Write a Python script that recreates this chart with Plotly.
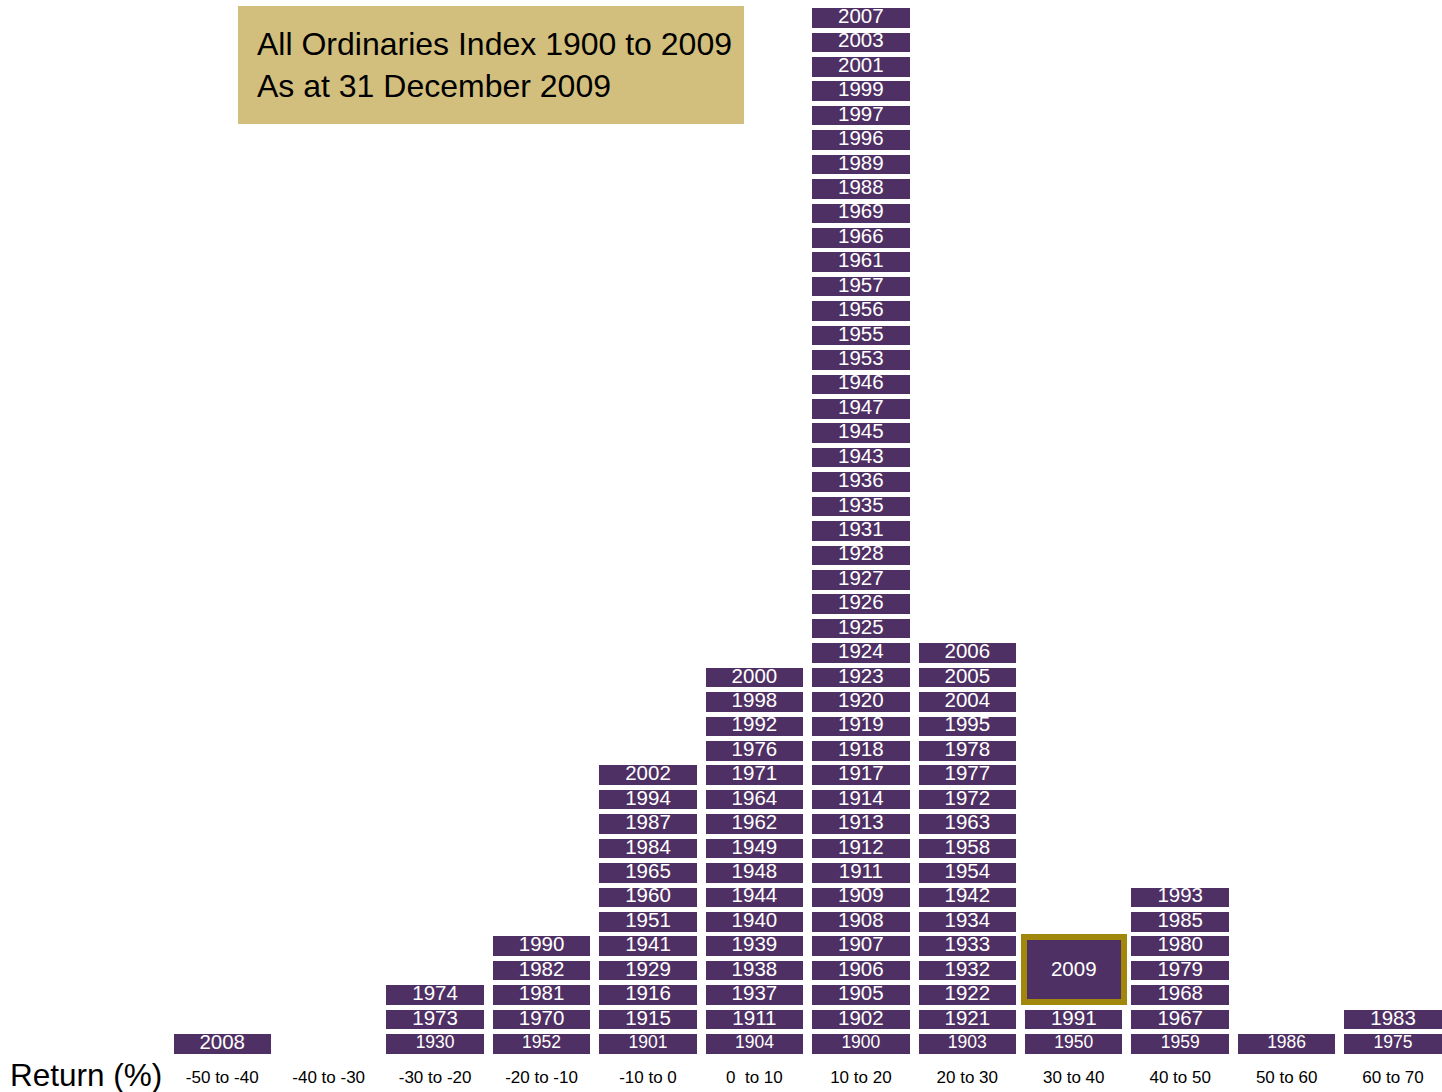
import plotly.graph_objects as go

# ---------------- data ----------------
categories = ["-50 to -40", "-40 to -30", "-30 to -20", "-20 to -10", "-10 to 0",
              "0  to 10", "10 to 20", "20 to 30", "30 to 40", "40 to 50",
              "50 to 60", "60 to 70"]

# years in each return bucket, listed bottom to top
years_m50_m40 = [2008]
years_m40_m30 = []
years_m30_m20 = [1930, 1973, 1974]
years_m20_m10 = [1952, 1970, 1981, 1982, 1990]
years_m10_0 = [1901, 1915, 1916, 1929, 1941, 1951, 1960, 1965, 1984, 1987, 1994, 2002]
years_0_10 = [1904, 1911, 1937, 1938, 1939, 1940, 1944, 1948, 1949, 1962, 1964, 1971,
              1976, 1992, 1998, 2000]
years_10_20 = [1900, 1902, 1905, 1906, 1907, 1908, 1909, 1911, 1912, 1913, 1914, 1917,
               1918, 1919, 1920, 1923, 1924, 1925, 1926, 1927, 1928, 1931, 1935, 1936,
               1943, 1945, 1947, 1946, 1953, 1955, 1956, 1957, 1961, 1966, 1969, 1988,
               1989, 1996, 1997, 1999, 2001, 2003, 2007]
years_20_30 = [1903, 1921, 1922, 1932, 1933, 1934, 1942, 1954, 1958, 1963, 1972, 1977,
               1978, 1995, 2004, 2005, 2006]
years_30_40 = [1950, 1991, 2009]
years_40_50 = [1959, 1967, 1968, 1979, 1980, 1985, 1993]
years_50_60 = [1986]
years_60_70 = [1975, 1983]

highlight_year = 2009
highlight_rows = 3

title_lines = ["All Ordinaries Index 1900 to 2009", "As at 31 December 2009"]
axis_label = "Return (%)"

columns = [years_m50_m40, years_m40_m30, years_m30_m20, years_m20_m10, years_m10_0,
           years_0_10, years_10_20, years_20_30, years_30_40, years_40_50,
           years_50_60, years_60_70]

# ---------------- styles ----------------
PURPLE = "#4F3064"
GOLD_BG = "#D3BF7D"
GOLD_LINE = "#A2870D"
FONT = "Liberation Sans, Arial, sans-serif"
BOX_W = 0.915
BOX_H = 0.8

W, H = 1442, 1092
PPU_X = 106.44
ML, MR, MT, MB = 169, 0, 2, 35
X0 = -0.5
X1 = X0 + (W - ML - MR) / PPU_X
Y1 = 42.65
Y0 = Y1 - (H - MT - MB) / 24.43

bx, by, bbase = [], [], []
tx, ty, tt, ts = [], [], [], []
hx, hy, hbase, hlab = [], [], [], []
for ci, col in enumerate(columns):
    row = 0
    for yr in col:
        if yr == highlight_year:
            hx.append(ci)
            hbase.append(row - 0.28)
            hy.append(highlight_rows - 1 + 0.66)
            hlab.append((ci, row + (highlight_rows - 1) / 2, str(yr)))
            row += highlight_rows
            continue
        bx.append(ci)
        bbase.append(row - BOX_H / 2)
        by.append(BOX_H)
        tx.append(ci)
        ty.append(row)
        tt.append(str(yr))
        ts.append(17.5 if (row == 0 and ci != 0) else 20.5)
        row += 1

fig = go.Figure()
fig.add_trace(go.Bar(x=bx, y=by, base=bbase, width=BOX_W,
                     marker=dict(color=PURPLE, line=dict(width=0)),
                     hoverinfo="skip", showlegend=False))
fig.add_trace(go.Bar(x=hx, y=hy, base=hbase, width=0.94,
                     marker=dict(color=PURPLE, line=dict(width=6, color=GOLD_LINE)),
                     hoverinfo="skip", showlegend=False))
fig.add_trace(go.Scatter(x=tx, y=ty, mode="text", text=tt,
                         textfont=dict(color="white", size=ts, family=FONT),
                         hoverinfo="skip", showlegend=False))
fig.add_trace(go.Scatter(x=[h[0] for h in hlab], y=[h[1] for h in hlab], mode="text",
                         text=[h[2] for h in hlab],
                         textfont=dict(color="white", size=20.5, family=FONT),
                         hoverinfo="skip", showlegend=False))

def px_to_paper_x(px):
    return (px - ML) / (W - ML - MR)

def py_to_paper_y(py):
    return 1 - (py - MT) / (H - MT - MB)

fig.add_shape(type="rect", xref="paper", yref="paper",
              x0=px_to_paper_x(238), x1=px_to_paper_x(744),
              y0=py_to_paper_y(124), y1=py_to_paper_y(6),
              fillcolor=GOLD_BG, line=dict(width=0), layer="below")
fig.add_annotation(xref="paper", yref="paper",
                   x=px_to_paper_x(255), y=py_to_paper_y(65),
                   xanchor="left", yanchor="middle", align="left",
                   text="<br>".join(title_lines), showarrow=False,
                   font=dict(size=32, color="black", family=FONT))
fig.add_annotation(xref="paper", yref="paper",
                   x=px_to_paper_x(8), y=py_to_paper_y(1075),
                   xanchor="left", yanchor="middle",
                   text=axis_label, showarrow=False,
                   font=dict(size=31.5, color="black", family=FONT))

fig.update_layout(
    width=W, height=H,
    margin=dict(l=ML, r=MR, t=MT, b=MB),
    paper_bgcolor="white", plot_bgcolor="white",
    barmode="overlay", bargap=0,
    xaxis=dict(range=[X0, X1], tickvals=list(range(len(categories))),
               ticktext=categories, showgrid=False, zeroline=False,
               showline=False, ticks="", ticklabelstandoff=8,
               tickfont=dict(size=17, color="black", family=FONT)),
    yaxis=dict(range=[Y0, Y1], visible=False, showgrid=False, zeroline=False),
)

fig.write_html("out.html", config={"displayModeBar": False},
               post_script="document.body.style.margin='0';document.body.style.overflow='hidden';")
